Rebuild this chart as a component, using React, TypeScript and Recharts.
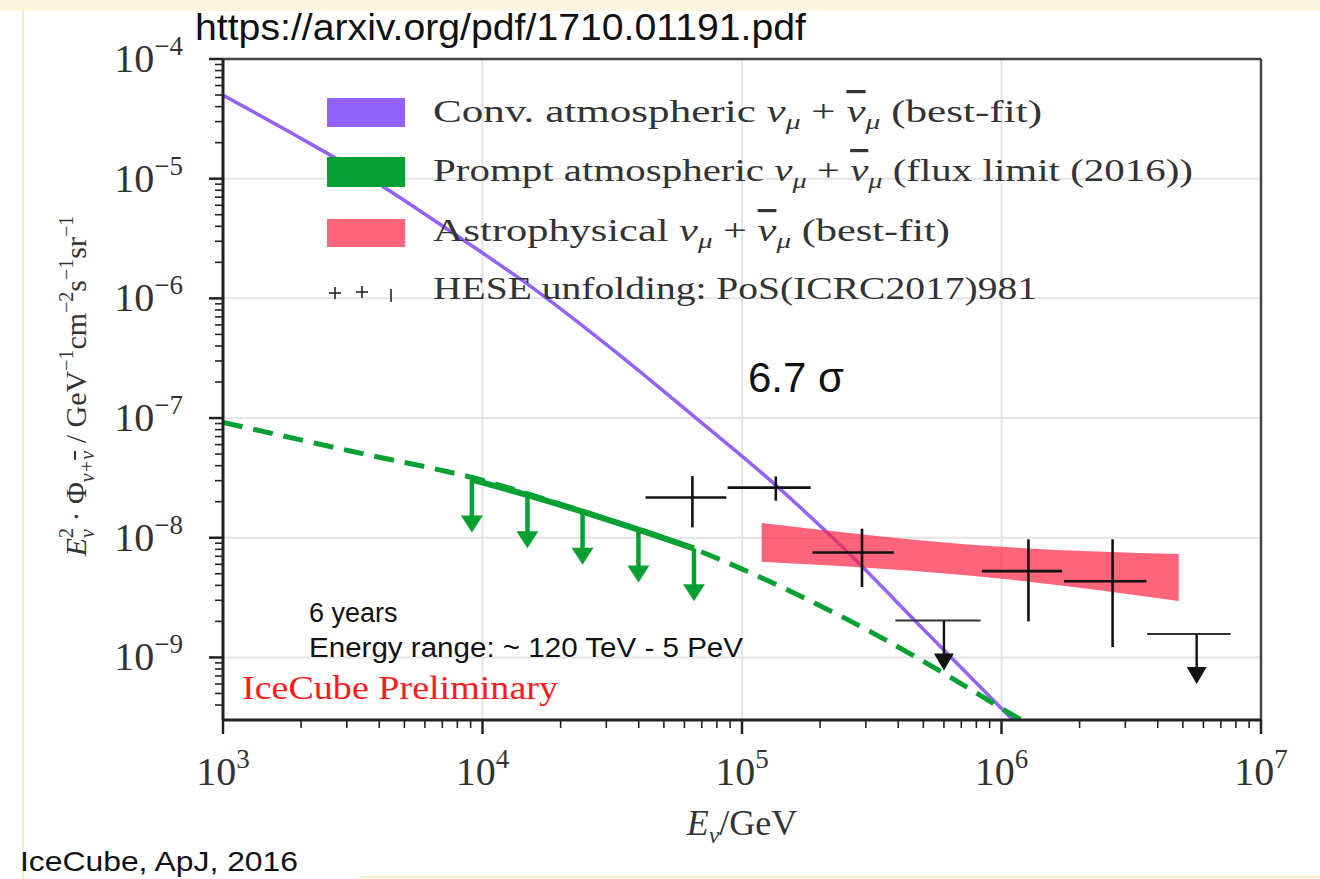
import React from "react";
import {
  ComposedChart,
  Line,
  Area,
  Scatter,
  XAxis,
  YAxis,
  CartesianGrid,
  ReferenceLine,
  ErrorBar,
} from "recharts";

const W = 1320;
const H = 879;
const SERIF = "'Liberation Serif', 'DejaVu Serif', serif";
const SANS = "'Liberation Sans', Arial, sans-serif";

const PURPLE = "#9362f8";
const GREEN = "#06a033";
const RED = "#ff2442";

// conventional atmospheric numu (best fit)
const convE = [1000, 2000, 4000, 7900, 15800, 31600, 63000, 126000, 251000, 500000, 1120000];
const convFlux = [4.97e-5, 2.17e-5, 9.0e-6, 3.38e-6, 1.2e-6, 3.76e-7, 1.1e-7, 3.13e-8, 7.85e-9, 1.72e-9, 2.92e-10];

// prompt atmospheric flux limit (dashed)
const promptE = [1000, 3160, 10000, 25100, 63100, 158000, 316000, 631000, 1120000, 1260000];
const promptFlux = [9.2e-8, 5.25e-8, 3.02e-8, 1.62e-8, 8.3e-9, 3.47e-9, 1.62e-9, 6.9e-10, 3.24e-10, 2.8e-10];

// prompt limit arrows (solid part)
const limitE = [9100, 14900, 24300, 39900, 65300];
const limitFlux = [3.06e-8, 2.27e-8, 1.65e-8, 1.17e-8, 8.15e-9];

// astrophysical band
const astroE = [119000, 1000000, 4820000];
const astroLo = [6.3e-9, 4.55e-9, 2.96e-9];
const astroHi = [1.33e-8, 8.4e-9, 7.3e-9];

// HESE unfolding points
const heseE = [64400, 135000, 290000, 1270000, 2680000];
const heseELo = [42500, 88000, 187000, 840000, 1740000];
const heseEHi = [87000, 184000, 385000, 1710000, 3620000];
const heseFlux = [2.17e-8, 2.62e-8, 7.53e-9, 5.26e-9, 4.33e-9];
const heseFluxLo = [1.22e-8, 2.04e-8, 3.88e-9, 2.0e-9, 1.22e-9];
const heseFluxHi = [3.27e-8, 3.25e-8, 1.19e-8, 9.7e-9, 9.7e-9];

// HESE upper limits
const heseLimE = [600000, 5650000];
const heseLimELo = [390000, 3640000];
const heseLimEHi = [830000, 7640000];
const heseLimFlux = [2.03e-9, 1.57e-9];

const xMajor = [1e3, 1e4, 1e5, 1e6, 1e7];
const xExp = ["3", "4", "5", "6", "7"];
const yMajor = [1e-9, 1e-8, 1e-7, 1e-6, 1e-5, 1e-4];
const yExp = ["−9", "−8", "−7", "−6", "−5", "−4"];
const minorSteps = [2, 3, 4, 5, 6, 7, 8, 9];

const xTicks: number[] = [];
xMajor.forEach((m, i) => {
  xTicks.push(m);
  if (i < xMajor.length - 1) minorSteps.forEach((k) => xTicks.push(k * m));
});
const yTicks: number[] = minorSteps.filter((k) => k > 3).map((k) => k * 1e-10);
yMajor.forEach((m, i) => {
  yTicks.push(m);
  if (i < yMajor.length - 1) minorSteps.forEach((k) => yTicks.push(k * m));
});

const convData = convE.map((x, i) => ({ x, y: convFlux[i] }));
const promptData = promptE.map((x, i) => ({ x, y: promptFlux[i] }));
const limitData = limitE.map((x, i) => ({ x, y: limitFlux[i] }));
const astroData = astroE.map((x, i) => ({ x, band: [astroLo[i], astroHi[i]] }));
const heseData = heseE.map((x, i) => ({
  x,
  y: heseFlux[i],
  ex: [x - heseELo[i], heseEHi[i] - x],
  ey: [heseFlux[i] - heseFluxLo[i], heseFluxHi[i] - heseFlux[i]],
}));
const heseLimData = heseLimE.map((x, i) => ({
  x,
  y: heseLimFlux[i],
  ex: [x - heseLimELo[i], heseLimEHi[i] - x],
}));

const XTick = (props: any) => {
  const { x, y, payload } = props;
  const i = xMajor.indexOf(payload.value);
  const major = i >= 0;
  return (
    <g>
      <line x1={x} x2={x} y1={y} y2={y + (major ? 14 : 8)} stroke="#222" strokeWidth={major ? 2.5 : 1.6} />
      {major && (
        <text x={x} y={y + 65} textAnchor="middle" fontFamily={SERIF} fontSize={40} fill="#333">
          10
          <tspan dy={-17} fontSize={27}>
            {xExp[i]}
          </tspan>
        </text>
      )}
    </g>
  );
};

const YTick = (props: any) => {
  const { x, y, payload } = props;
  const i = yMajor.indexOf(payload.value);
  const major = i >= 0;
  return (
    <g>
      <line x1={x - (major ? 14 : 8)} x2={x} y1={y} y2={y} stroke="#222" strokeWidth={major ? 2.5 : 1.6} />
      {major && (
        <text x={x - 40} y={y + 13} textAnchor="end" fontFamily={SERIF} fontSize={40} fill="#333">
          10
          <tspan dy={-17} fontSize={27}>
            {yExp[i]}
          </tspan>
        </text>
      )}
    </g>
  );
};

const DownArrow = (props: any) => {
  const { cx, cy, color, len, head, hw, sw } = props;
  if (cx == null || cy == null) return <g />;
  return (
    <g>
      <line x1={cx} x2={cx} y1={cy} y2={cy + len - head + 2} stroke={color} strokeWidth={sw} />
      <polygon points={`${cx - hw},${cy + len - head} ${cx + hw},${cy + len - head} ${cx},${cy + len}`} fill={color} />
    </g>
  );
};

const Nu = ({ bar }: { bar?: boolean }) => (
  <>
    <tspan fontStyle="italic" style={bar ? { textDecoration: "overline" } : undefined}>
      ν
    </tspan>
    <tspan dy={7} fontSize={22} fontStyle="italic">
      μ
    </tspan>
  </>
);

export default function App() {
  return (
    <div style={{ position: "absolute", left: 0, top: 0, width: W, height: H, background: "#fff" }}>
      <ComposedChart width={W} height={H} margin={{ top: 59, right: 59, bottom: 0, left: 0 }}>
        <CartesianGrid
          stroke="#e4e4e4"
          strokeWidth={2}
          horizontalValues={yMajor}
          verticalValues={xMajor}
        />
        <XAxis
          dataKey="x"
          type="number"
          scale="log"
          domain={[1e3, 1e7]}
          allowDataOverflow
          ticks={xTicks}
          interval={0}
          height={159}
          tickSize={0}
          tickMargin={0}
          tickLine={false}
          tick={(p: any) => <XTick {...p} />}
          axisLine={{ stroke: "#222", strokeWidth: 3 }}
        />
        <YAxis
          dataKey="y"
          type="number"
          scale="log"
          domain={[3e-10, 1e-4]}
          allowDataOverflow
          ticks={yTicks}
          interval={0}
          width={223}
          tickSize={0}
          tickMargin={0}
          tickLine={false}
          tick={(p: any) => <YTick {...p} />}
          axisLine={{ stroke: "#222", strokeWidth: 3 }}
        />
        <Line data={convData} dataKey="y" type="monotone" stroke={PURPLE} strokeWidth={3.5} dot={false} isAnimationActive={false} />
        <Line data={promptData} dataKey="y" type="monotone" stroke={GREEN} strokeWidth={5} strokeDasharray="20 11" dot={false} isAnimationActive={false} />
        <Line data={limitData} dataKey="y" type="monotone" stroke={GREEN} strokeWidth={6} dot={false} isAnimationActive={false} />
        <Scatter
          data={limitData}
          dataKey="y"
          isAnimationActive={false}
          shape={(p: any) => <DownArrow {...p} color={GREEN} len={53} head={17} hw={11} sw={4.5} />}
        />
        <Area
          data={astroData}
          dataKey="band"
          type="monotone"
          stroke="none"
          fill={RED}
          fillOpacity={0.7}
          isAnimationActive={false}
          zIndex={420}
        />
        <Scatter data={heseData} dataKey="y" isAnimationActive={false} shape={() => <g />} zIndex={800}>
          <ErrorBar direction="x" dataKey="ex" width={0} stroke="#111" strokeWidth={2.6} zIndex={800} />
          <ErrorBar direction="y" dataKey="ey" width={0} stroke="#111" strokeWidth={2.6} zIndex={800} />
        </Scatter>
        <Scatter
          data={heseLimData}
          dataKey="y"
          isAnimationActive={false}
          zIndex={800}
          shape={(p: any) => <DownArrow {...p} color="#111" len={50} head={17} hw={10} sw={2.4} />}
        >
          <ErrorBar direction="x" dataKey="ex" width={0} stroke="#333" strokeWidth={2} zIndex={800} />
        </Scatter>
        <ReferenceLine y={1e-4} stroke="#444" strokeWidth={2.5} ifOverflow="visible" />
        <ReferenceLine x={1e7} stroke="#444" strokeWidth={2.5} ifOverflow="visible" />
      </ComposedChart>

      <svg width={W} height={H} style={{ position: "absolute", left: 0, top: 0, pointerEvents: "none" }}>
        {/* cream frame of the slide */}
        <rect x={0} y={0} width={W} height={11} fill="#fdf6de" />
        <line x1={23} x2={23} y1={11} y2={H} stroke="#f6ecca" strokeWidth={2} />
        <line x1={360} x2={W} y1={877} y2={877} stroke="#f6ecca" strokeWidth={2} />

        <text x={195} y={40} fontFamily={SANS} fontSize={37} fill="#111" textLength={611} lengthAdjust="spacingAndGlyphs">
          https://arxiv.org/pdf/1710.01191.pdf
        </text>

        {/* legend */}
        <rect x={327} y={98} width={78} height={29} fill={PURPLE} />
        <rect x={327} y={157} width={78} height={30} fill={GREEN} />
        <rect x={327} y={219} width={78} height={28} fill={RED} fillOpacity={0.7} />
        <g stroke="#222" strokeWidth={1.6}>
          <line x1={329} x2={341} y1={293} y2={293} />
          <line x1={335} x2={335} y1={287} y2={299} />
          <line x1={356} x2={368} y1={292} y2={292} />
          <line x1={362} x2={362} y1={286} y2={298} />
          <line x1={391} x2={391} y1={289} y2={302} />
        </g>
        <g fontFamily={SERIF} fontSize={32} fill="#333">
          <text x={433} y={122} textLength={609} lengthAdjust="spacingAndGlyphs">
            Conv. atmospheric <Nu />
            <tspan dy={-7}> + </tspan>
            <Nu bar />
            <tspan dy={-7}> (best-fit)</tspan>
          </text>
          <text x={433} y={181} textLength={760} lengthAdjust="spacingAndGlyphs">
            Prompt atmospheric <Nu />
            <tspan dy={-7}> + </tspan>
            <Nu bar />
            <tspan dy={-7}> (flux limit (2016))</tspan>
          </text>
          <text x={433} y={241} textLength={517} lengthAdjust="spacingAndGlyphs">
            Astrophysical <Nu />
            <tspan dy={-7}> + </tspan>
            <Nu bar />
            <tspan dy={-7}> (best-fit)</tspan>
          </text>
          <text x={433} y={299} textLength={604} lengthAdjust="spacingAndGlyphs">
            HESE unfolding: PoS(ICRC2017)981
          </text>
        </g>

        <text x={748} y={392} fontFamily={SANS} fontSize={42} fill="#111">
          6.7 σ
        </text>
        <text x={309} y={622} fontFamily={SANS} fontSize={27} fill="#111">
          6 years
        </text>
        <text x={309} y={657} fontFamily={SANS} fontSize={27} fill="#111" textLength={434} lengthAdjust="spacingAndGlyphs">
          Energy range: ~ 120 TeV - 5 PeV
        </text>
        <text x={242} y={699} fontFamily={SERIF} fontSize={34} fill="#ff1a1a" textLength={316} lengthAdjust="spacingAndGlyphs">
          IceCube Preliminary
        </text>

        {/* axis titles */}
        <text x={742} y={835} textAnchor="middle" fontFamily={SERIF} fontSize={36} fill="#333">
          <tspan fontStyle="italic">E</tspan>
          <tspan dy={8} fontSize={24} fontStyle="italic">
            ν
          </tspan>
          <tspan dy={-8}>/GeV</tspan>
        </text>
        <text transform="translate(86, 386) rotate(-90)" textAnchor="middle" fontFamily={SERIF} fontSize={30} fill="#333">
          <tspan fontStyle="italic">E</tspan>
          <tspan dy={-13} fontSize={20}>
            2
          </tspan>
          <tspan dx={-10} dy={21} fontSize={20} fontStyle="italic">
            ν
          </tspan>
          <tspan dy={-8}> · Φ</tspan>
          <tspan dy={8} fontSize={20} fontStyle="italic">
            ν+
          </tspan>
          <tspan fontSize={20} fontStyle="italic" style={{ textDecoration: "overline" }}>
            ν
          </tspan>
          <tspan dy={-8}> / GeV</tspan>
          <tspan dy={-13} fontSize={20}>
            −1
          </tspan>
          <tspan dy={13}>cm</tspan>
          <tspan dy={-13} fontSize={20}>
            −2
          </tspan>
          <tspan dy={13}>s</tspan>
          <tspan dy={-13} fontSize={20}>
            −1
          </tspan>
          <tspan dy={13}>sr</tspan>
          <tspan dy={-13} fontSize={20}>
            −1
          </tspan>
        </text>

        <text x={20} y={871} fontFamily={SANS} fontSize={28} fill="#111" textLength={278} lengthAdjust="spacingAndGlyphs">
          IceCube, ApJ, 2016
        </text>
      </svg>
    </div>
  );
}
